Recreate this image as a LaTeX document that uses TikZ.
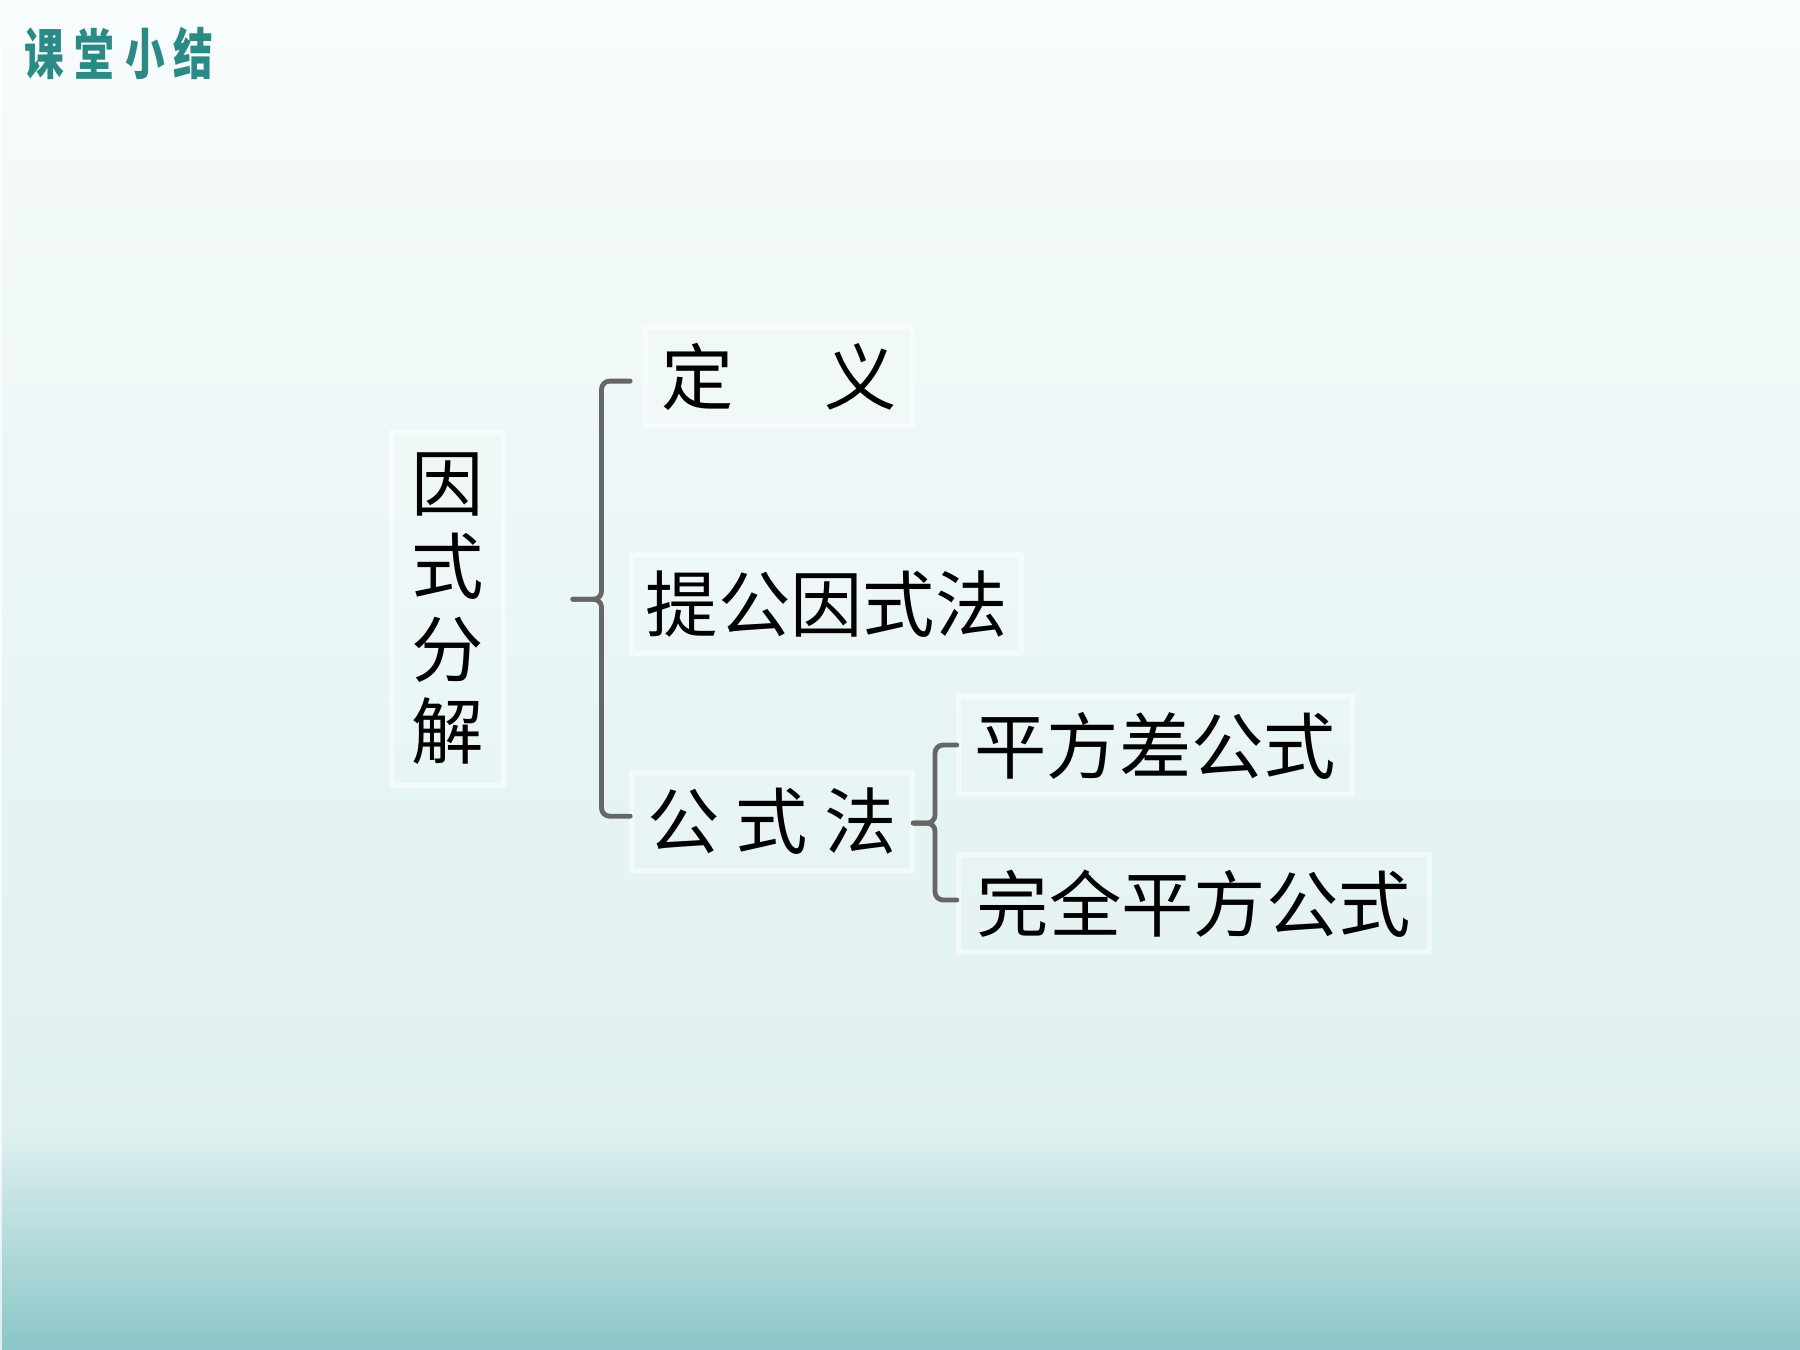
\documentclass[tikz,border=0pt]{standalone}
\usepackage{fontspec}
\setmainfont{Noto Sans CJK SC}
\usetikzlibrary{calc}
\definecolor{bgtop}{HTML}{F8FCFC}
\definecolor{bgmid}{HTML}{DFF0F0}
\definecolor{bgbot}{HTML}{8BC6C8}
\definecolor{titleteal}{HTML}{2B8A86}
\definecolor{bracegray}{HTML}{666666}
\begin{document}
\begin{tikzpicture}[x=0.5pt,y=-0.5pt,
  box/.style={draw=white,draw opacity=0.5,line width=2.2pt,fill=white,fill opacity=0.12,text opacity=1,inner sep=0pt,font=\fontsize{31.5}{36}\selectfont},
  brace/.style={draw=bracegray,line width=2.1pt,rounded corners=3.5pt,line cap=round},
  ttl/.style={text=titleteal,font=\fontsize{24}{24}\selectfont\bfseries,inner sep=0pt}]
% background
\useasboundingbox (0,0) rectangle (1568,1176);
\shade[top color=bgtop,bottom color=bgmid] (0,0) rectangle (1568,984);
\shade[top color=bgmid,bottom color=bgbot] (0,983.5) rectangle (1568,1176);
\fill[white,opacity=0.7] (0,0) rectangle (1.5,1176);
% title
\node[ttl] (t1) at (38.3,46.6) {\scalebox{0.72}[1]{课}};
\node[ttl] (t2) at (81.9,46.6) {\scalebox{0.72}[1]{堂}};
\node[ttl] (t3) at (126.7,46.6) {\scalebox{0.72}[1]{小}};
\node[ttl] (t4) at (168.6,46.6) {\scalebox{0.72}[1]{结}};
% boxes
\node[box,minimum width=49pt,minimum height=153.5pt,align=center] (root) at (390,530.5) {因\\式\\分\\解};
\node[box,minimum width=116.5pt,minimum height=43pt] (def) at (678.5,328) {定\hspace{39.5pt}义};
\node[box,minimum width=170pt,minimum height=43pt] (tg) at (720,526) {提公因式法};
\node[box,minimum width=122.5pt,minimum height=42.5pt] (gs) at (672.5,715.5) {公\hspace{7pt}式\hspace{7pt}法};
\node[box,minimum width=171.5pt,minimum height=42.5pt] (pf) at (1006.5,649.5) {平方差公式};
\node[box,minimum width=205pt,minimum height=43pt] (wq) at (1040,787) {完全平方公式};
% brace 1
\coordinate (b1t) at (549,332);
\coordinate (b1m) at (499,522);
\coordinate (b1v) at (524,522);
\coordinate (b1b) at (549,711);
\draw[brace] (b1t) -- (b1t -| b1v) -- (b1v) -- (b1m);
\draw[brace] (b1m) -- (b1v) -- (b1b -| b1v) -- (b1b);
% brace 2
\coordinate (b2t) at (833.5,649);
\coordinate (b2m) at (795.5,717);
\coordinate (b2v) at (814.5,717);
\coordinate (b2b) at (833.5,784);
\draw[brace] (b2t) -- (b2t -| b2v) -- (b2v) -- (b2m);
\draw[brace] (b2m) -- (b2v) -- (b2b -| b2v) -- (b2b);
\end{tikzpicture}
\end{document}
